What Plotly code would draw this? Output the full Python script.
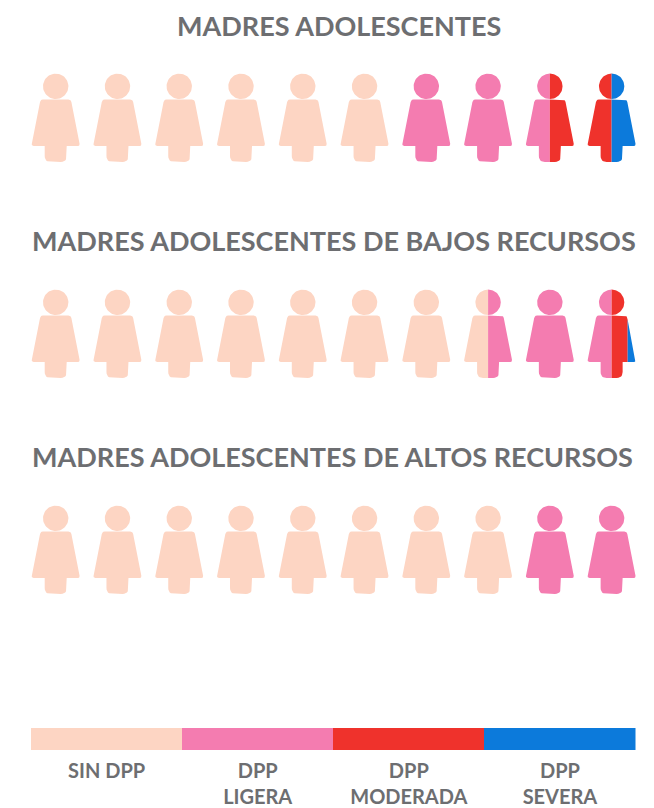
import math
import plotly.graph_objects as go

# ---- data ----
row_titles = ["MADRES ADOLESCENTES",
              "MADRES ADOLESCENTES DE BAJOS RECURSOS",
              "MADRES ADOLESCENTES DE ALTOS RECURSOS"]
categories = ["SIN DPP", "DPP LIGERA", "DPP MODERADA", "DPP SEVERA"]
category_ticks = ["SIN DPP", "DPP<br>LIGERA", "DPP<br>MODERADA", "DPP<br>SEVERA"]
colors = ["#FDD5C3", "#F47CB0", "#EF322C", "#0C7ADB"]
# women out of 10 in each category, one list per category, one value per row
sin_dpp = [6.0, 7.5, 8.0]
ligera = [2.5, 2.0, 2.0]
moderada = [1.0, 0.33, 0.0]
severa = [0.5, 0.17, 0.0]
series = [sin_dpp, ligera, moderada, severa]
persons = 10

# ---- layout constants ----
W, H = 654, 808
ROW_Y = [86.3, 302.3, 518.3]   # head centre in page px
TITLE_Y = [25, 241, 457]
TITLE_X = [339, 333.5, 332.5]
FIRST_CX, STEP = 55.7, 61.77
X0 = FIRST_CX - STEP / 2       # page px of person-axis value 0
GLYPH_W = 48.6                 # px width of the icon


def rounded(points, radii):
    out = []
    n = len(points)
    for i, (x, y) in enumerate(points):
        px, py = points[i - 1]
        nx, ny = points[(i + 1) % n]
        d1 = math.hypot(px - x, py - y)
        d2 = math.hypot(nx - x, ny - y)
        rr = radii[i]
        if rr == 0:
            out.append((x, y))
            continue
        a = (x + (px - x) * rr / d1, y + (py - y) * rr / d1)
        b = (x + (nx - x) * rr / d2, y + (ny - y) * rr / d2)
        for k in range(7):
            t = k / 6
            out.append(((1 - t) ** 2 * a[0] + 2 * t * (1 - t) * x + t ** 2 * b[0],
                        (1 - t) ** 2 * a[1] + 2 * t * (1 - t) * y + t ** 2 * b[1]))
    return out


# Icon outline relative to head centre, in px
HEAD = [(12.7 * math.cos(2 * math.pi * k / 60), 12.7 * math.sin(2 * math.pi * k / 60))
        for k in range(60)]
BODY = rounded([(-15.2, 13.3), (15.2, 13.3), (24.3, 59.6), (11.0, 59.6), (11.0, 75.6),
                (-11.0, 75.6), (-11.0, 59.6), (-24.3, 59.6)],
               [2.5, 2.5, 2.2, 0, 6, 6, 0, 2.2])


def clip(poly, lo, hi):
    def cut(pts, xv, keep_right):
        res = []
        for i, p in enumerate(pts):
            q = pts[i - 1]
            pin = p[0] >= xv if keep_right else p[0] <= xv
            qin = q[0] >= xv if keep_right else q[0] <= xv
            if pin != qin:
                t = (xv - q[0]) / (p[0] - q[0])
                res.append((xv, q[1] + t * (p[1] - q[1])))
            if pin:
                res.append(p)
        return res
    pts = cut(poly, lo, True)
    return cut(pts, hi, False) if pts else []


fig = go.Figure()
for c, (name, color, values) in enumerate(zip(categories, colors, series)):
    xs, ys = [], []
    for r in range(len(row_titles)):
        start = sum(series[k][r] for k in range(c))
        end = start + values[r]
        for p in range(persons):
            lo, hi = max(start, p), min(end, p + 1)
            if hi <= lo:
                continue
            lo_px = (lo - p - 0.5) * GLYPH_W if lo > p else -99
            hi_px = (hi - p - 0.5) * GLYPH_W if hi < p + 1 else 99
            for shape in (HEAD, BODY):
                part = clip(shape, lo_px, hi_px)
                if part:
                    part = part + part[:1]
                    xs += [p + 0.5 + q[0] / STEP for q in part] + [None]
                    ys += [ROW_Y[r] + q[1] for q in part] + [None]
    if xs:
        fig.add_trace(go.Scatter(x=xs, y=ys, mode="lines", fill="toself", fillcolor=color,
                                 line=dict(width=0, color=color), name=name,
                                 hoverinfo="name", showlegend=False))

fig.add_trace(go.Bar(x=category_ticks, y=[1, 1, 1, 1], marker=dict(color=colors, line_width=0),
                     xaxis="x2", yaxis="y2", width=1, showlegend=False, hoverinfo="x"))

annotations = [dict(text=t, x=TITLE_X[i] / W, y=1 - TITLE_Y[i] / H,
                    xref="paper", yref="paper", showarrow=False, xanchor="center", yanchor="middle",
                    font=dict(family="Lato, sans-serif", size=27, color="#6D6E71", weight=700))
               for i, t in enumerate(row_titles)]

fig.update_layout(
    width=W, height=H, margin=dict(l=0, r=0, t=0, b=0), autosize=False,
    paper_bgcolor="white", plot_bgcolor="white", annotations=annotations, bargap=0,
    xaxis=dict(domain=[0, 1], range=[-X0 / STEP, (W - X0) / STEP], visible=False, fixedrange=True, automargin=False),
    yaxis=dict(domain=[0, 1], range=[H, 0], visible=False, fixedrange=True, automargin=False),
    xaxis2=dict(domain=[31 / W, 635.5 / W], anchor="y2", type="category", showline=False, showgrid=False,
                zeroline=False, ticks="outside", ticklen=3, tickcolor="rgba(0,0,0,0)", automargin=False,
                tickfont=dict(family="Lato, sans-serif", size=20, color="#6D6E71", weight=700),
                tickangle=0, fixedrange=True),
    yaxis2=dict(domain=[1 - 750 / H, 1 - 728 / H], range=[0, 1], anchor="x2", visible=False, fixedrange=True,
                automargin=False),
)
fig.write_html("out.html", config=dict(displayModeBar=False),
               post_script="document.body.style.margin='0';document.documentElement.style.overflow='hidden';")
